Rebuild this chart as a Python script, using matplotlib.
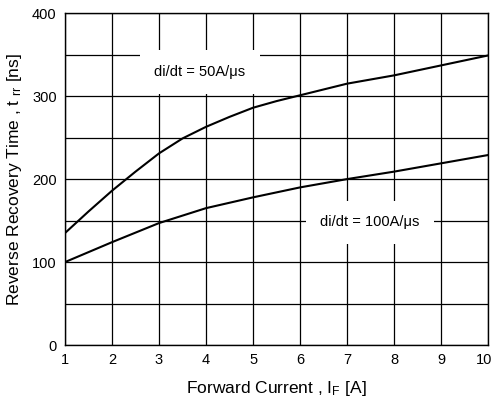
import matplotlib
matplotlib.use("Agg")
import matplotlib.pyplot as plt
from matplotlib.transforms import ScaledTranslation

# Forward current (A) and reverse recovery time (ns), di/dt = 50 A/us
current_50 = [1, 1.5, 2, 2.5, 3, 3.5, 4, 4.5, 5, 5.5, 6, 7, 8, 9, 10]
trr_50 = [135, 161, 186, 209, 231, 249, 263, 275, 286, 294, 301, 315, 325, 337, 349]

# di/dt = 100 A/us
current_100 = [1, 2, 3, 4, 5, 6, 7, 8, 9, 10]
trr_100 = [100, 124, 147, 165, 178, 190, 200, 209, 219, 229]

x_ticks = [1, 2, 3, 4, 5, 6, 7, 8, 9, 10]
y_ticks = [0, 100, 200, 300, 400]
y_grid = [0, 50, 100, 150, 200, 250, 300, 350, 400]

plt.rcParams["font.family"] = ["Liberation Sans", "DejaVu Sans"]
plt.rcParams["mathtext.fontset"] = "custom"
plt.rcParams["mathtext.rm"] = "Liberation Sans"
plt.rcParams["mathtext.it"] = "Liberation Sans"
plt.rcParams["mathtext.default"] = "regular"

fig = plt.figure(figsize=(4.94, 3.98), dpi=100)
ax = fig.add_axes([0.1316, 0.133, 0.8564, 0.834])

# grid drawn by hand so the label boxes can cover it
for x in x_ticks:
    ax.axvline(x, color="black", linewidth=0.9, zorder=1)
for y in y_grid:
    ax.axhline(y, color="black", linewidth=0.9, zorder=1)

ax.plot(current_50, trr_50, color="black", linewidth=1.5, zorder=3)
ax.plot(current_100, trr_100, color="black", linewidth=1.5, zorder=3)

box = dict(boxstyle="square,pad=1.0", facecolor="white", edgecolor="none")
ax.text(3.87, 329, "di/dt = 50A/\u03bcs", ha="center", va="center",
        fontsize=10.5, bbox=box, zorder=2)
ax.text(7.49, 148, "di/dt = 100A/\u03bcs", ha="center", va="center",
        fontsize=10.5, bbox=box, zorder=2)

ax.set_xlim(1, 10)
ax.set_ylim(0, 400)
ax.set_xticks(x_ticks)
ax.set_yticks(y_ticks)
ax.tick_params(length=0, labelsize=10.5, pad=6)
for s in ax.spines.values():
    s.set_linewidth(1.0)

# keep the last x tick label inside the figure
last = ax.get_xticklabels()[-1]
last.set_transform(last.get_transform() + ScaledTranslation(-4 / 100, 0, fig.dpi_scale_trans))

ax.set_xlabel(r"Forward Current , I$_{F}$ [A]", fontsize=12.5, labelpad=8)
ax.set_ylabel(r"Reverse Recovery Time , t $_{rr}$ [ns]", fontsize=12.5, labelpad=6)

fig.savefig("out.png", dpi=100)
